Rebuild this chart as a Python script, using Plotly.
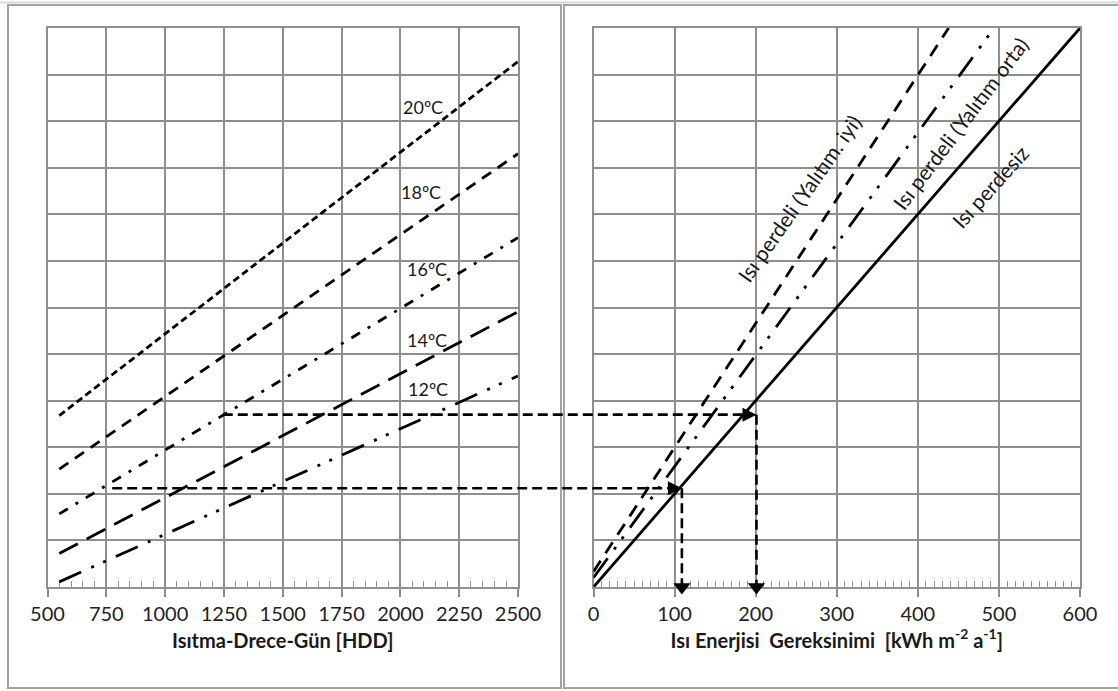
import plotly.graph_objects as go

# ---------------- data ----------------
# Left panel: Isıtma-Drece-Gün (HDD) vs. nomogram level (grid units 0-12)
temp_labels = ["20ºC", "18ºC", "16ºC", "14ºC", "12ºC"]
hdd_span = [550, 2500]
level_at_start = [3.68, 2.53, 1.57, 0.72, 0.11]
level_at_end = [11.28, 9.30, 7.50, 5.91, 4.53]
temp_label_hdd = [2096, 2086, 2112, 2112, 2116]
temp_label_level = [10.30, 8.49, 6.83, 5.30, 4.25]

# Right panel: Isı Enerjisi Gereksinimi vs. level
demand_names = ["Isı perdeli (Yalıtım. iyi)", "Isı perdeli (Yalıtım orta)", "Isı perdesiz"]
demand_start = [0, 0, 0]
demand_end = [438, 494, 600]
demand_level_start = [0.33, 0.20, 0.0]
demand_level_end = [12, 12, 12]
demand_label_x = [253, 452, 489]
demand_label_level = [8.35, 9.95, 8.6]

# Worked examples (dashed arrows)
case_hdd = [775, 1245]
case_level = [2.12, 3.70]
case_demand = [109, 201]

hdd_ticks = [500, 750, 1000, 1250, 1500, 1750, 2000, 2250, 2500]
demand_ticks = [0, 100, 200, 300, 400, 500, 600]
level_range = [0, 12]

# ---------------- styles ----------------
W, H = 1118, 691
FONT = "Lato, 'Open Sans', sans-serif"
GRID = "#8e8e8e"
left_dom = [47.5 / W, 518 / W]
right_dom = [593.5 / W, 1080 / W]
y_dom = [1 - 587 / H, 1 - 28 / H]

temp_dash = ["7px,4px", "11px,8px", "10px,9px,3px,9px", "21px,10px",
             "24px,11px,3px,10px,3px,11px"]
demand_dash = ["13px,9px", "24px,11px,3px,10px,3px,11px", "solid"]
demand_angle = [-55, -53, -48]

fig = go.Figure()

for i, name in enumerate(temp_labels):
    fig.add_trace(go.Scatter(
        x=hdd_span, y=[level_at_start[i], level_at_end[i]], mode="lines",
        line=dict(color="black", width=2.8, dash=temp_dash[i]),
        xaxis="x", yaxis="y", showlegend=False, hoverinfo="skip"))
    fig.add_annotation(x=temp_label_hdd[i], y=temp_label_level[i], xref="x", yref="y",
                       text=name, showarrow=False,
                       font=dict(family=FONT, size=18, color="#1a1a1a"))

for i, name in enumerate(demand_names):
    fig.add_trace(go.Scatter(
        x=[demand_start[i], demand_end[i]],
        y=[demand_level_start[i], demand_level_end[i]], mode="lines",
        line=dict(color="black", width=2.8, dash=demand_dash[i]),
        xaxis="x2", yaxis="y2", showlegend=False, hoverinfo="skip"))
    fig.add_annotation(x=demand_label_x[i], y=demand_label_level[i], xref="x2", yref="y2",
                       text=name, showarrow=False, textangle=demand_angle[i],
                       font=dict(family=FONT, size=21, color="#1a1a1a"))


def px_left(v):
    return left_dom[0] + (v - hdd_ticks[0]) / (hdd_ticks[-1] - hdd_ticks[0]) * (left_dom[1] - left_dom[0])


def px_right(v):
    return right_dom[0] + (v - demand_ticks[0]) / (demand_ticks[-1] - demand_ticks[0]) * (right_dom[1] - right_dom[0])


def py(v):
    return y_dom[0] + (v - level_range[0]) / (level_range[1] - level_range[0]) * (y_dom[1] - y_dom[0])


# worked-example arrows
for i in range(len(case_hdd)):
    fig.add_shape(type="line", xref="paper", yref="paper",
                  x0=px_left(case_hdd[i]), x1=px_right(case_demand[i]) - 0.006,
                  y0=py(case_level[i]), y1=py(case_level[i]),
                  line=dict(color="black", width=2.6, dash="10px,5px"))
    fig.add_trace(go.Scatter(
        x=[case_demand[i], case_demand[i]], y=[case_level[i], 0], mode="lines",
        line=dict(color="black", width=2.6, dash="10px,5px"),
        xaxis="x2", yaxis="y2", showlegend=False, hoverinfo="skip"))

fig.add_trace(go.Scatter(
    x=case_demand, y=case_level, mode="markers",
    marker=dict(symbol="arrow-right", size=14, color="black"),
    xaxis="x2", yaxis="y2", showlegend=False, hoverinfo="skip", cliponaxis=False))
fig.add_trace(go.Scatter(
    x=case_demand, y=[0] * len(case_demand), mode="markers",
    marker=dict(symbol="triangle-down", size=15, color="black"),
    xaxis="x2", yaxis="y2", showlegend=False, hoverinfo="skip", cliponaxis=False))

# chart frames (spreadsheet chart borders)
fig.add_shape(type="rect", xref="paper", yref="paper", x0=8 / W, x1=561 / W,
              y0=1 - 688 / H, y1=1 - 5 / H, line=dict(color="#a3a3a3", width=2), layer="below")
fig.add_shape(type="rect", xref="paper", yref="paper", x0=564 / W, x1=1.05,
              y0=1 - 688 / H, y1=1 - 5 / H, line=dict(color="#a3a3a3", width=2), layer="below")
fig.add_shape(type="line", xref="paper", yref="paper", x0=0, x1=1,
              y0=1 - 2.5 / H, y1=1 - 2.5 / H, line=dict(color="#d3d9e3", width=2), layer="below")

axis_common = dict(
    showgrid=True, gridcolor=GRID, gridwidth=1.5,
    showline=True, linecolor=GRID, linewidth=1.5, mirror=True,
    ticks="outside", ticklen=8, tickcolor=GRID, tickwidth=1.5,
    tickfont=dict(family=FONT, size=20, color="#222222"),
    zeroline=False, automargin=False, layer="below traces",
)

fig.update_layout(
    width=W, height=H,
    margin=dict(l=0, r=0, t=0, b=0, autoexpand=False),
    paper_bgcolor="white", plot_bgcolor="white",
    showlegend=False,
    xaxis=dict(domain=left_dom, range=[hdd_ticks[0], hdd_ticks[-1]],
               tickvals=hdd_ticks, anchor="y",
               minor=dict(dtick=50, ticks="inside", ticklen=6, tickcolor=GRID, tickwidth=1.2, showgrid=False),
               title=dict(text="<b>Isıtma-Drece-Gün [HDD]</b>", standoff=10,
                          font=dict(family=FONT, size=20, color="#1a1a1a")),
               **axis_common),
    xaxis2=dict(domain=right_dom, range=[demand_ticks[0], demand_ticks[-1]],
                tickvals=demand_ticks, anchor="y2",
                minor=dict(dtick=10, ticks="inside", ticklen=6, tickcolor=GRID, tickwidth=1.2, showgrid=False),
                title=dict(text="<b>Isı Enerjisi  Gereksinimi  [kWh m<sup>-2</sup> a<sup>-1</sup>]</b>", standoff=10,
                           font=dict(family=FONT, size=20, color="#1a1a1a")),
                **axis_common),
    yaxis=dict(domain=y_dom, range=level_range, dtick=1, anchor="x",
               showgrid=True, gridcolor=GRID, gridwidth=1.5, showline=True, linecolor=GRID,
               linewidth=1.5, mirror=True, showticklabels=False, ticks="", zeroline=False,
               layer="below traces"),
    yaxis2=dict(domain=y_dom, range=level_range, dtick=1, anchor="x2",
                showgrid=True, gridcolor=GRID, gridwidth=1.5, showline=True, linecolor=GRID,
                linewidth=1.5, mirror=True, showticklabels=False, ticks="", zeroline=False,
                layer="below traces"),
)

fig.write_html("out.html", config={"displayModeBar": False},
               post_script="document.body.style.margin='0';document.body.style.overflow='hidden';")
